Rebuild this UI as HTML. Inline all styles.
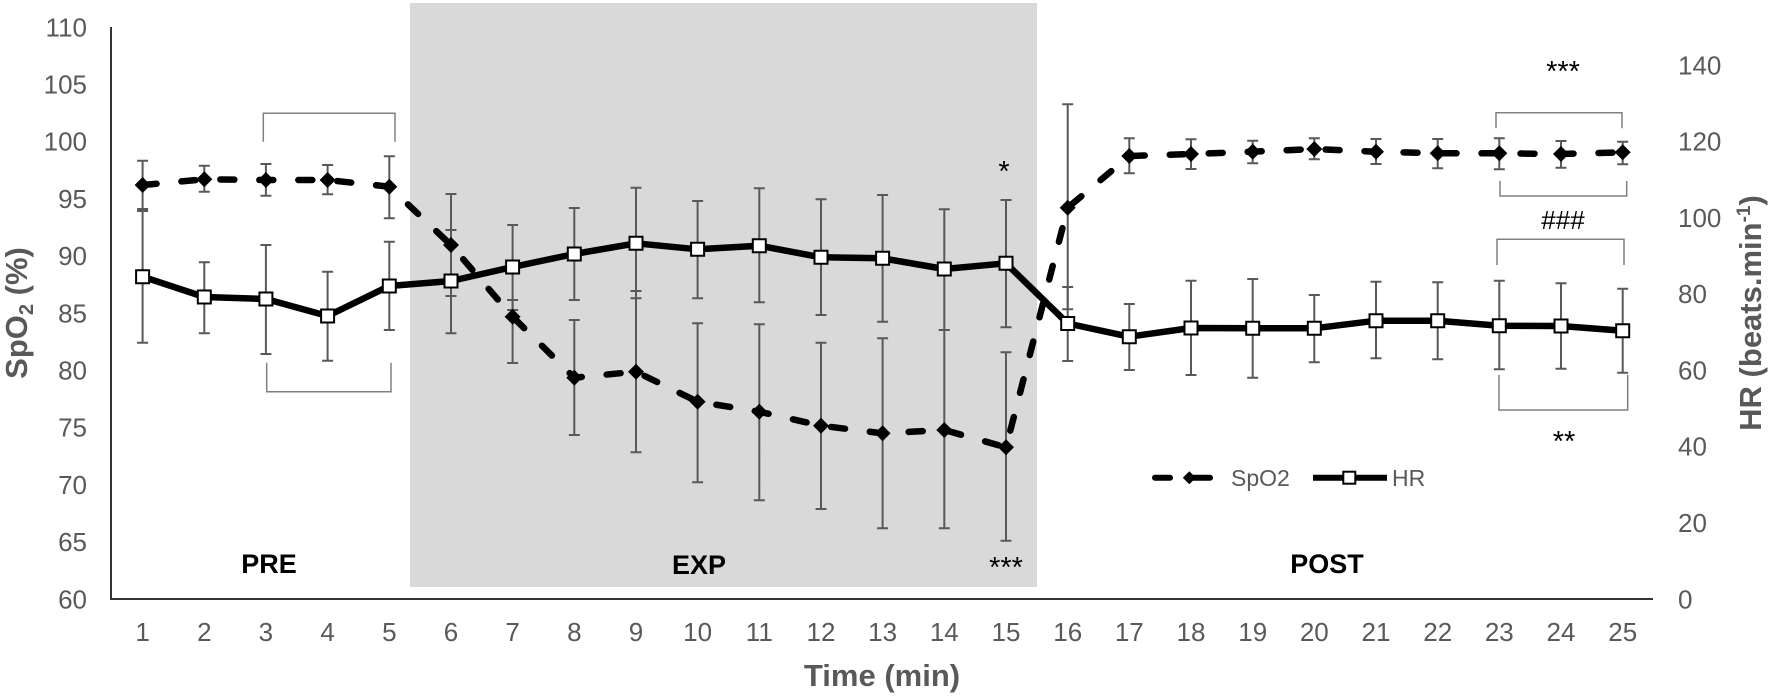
<!DOCTYPE html>
<html>
<head>
<meta charset="utf-8">
<style>
html,body{margin:0;padding:0;background:#fff;}
svg{display:block;}
text{font-family:"Liberation Sans",Arial,sans-serif;}
</style>
</head>
<body>
<svg width="1772" height="696" viewBox="0 0 1772 696" xmlns="http://www.w3.org/2000/svg">
<rect x="0" y="0" width="1772" height="696" fill="#fff"/>
<!-- shaded EXP region -->
<rect x="410" y="3" width="627" height="584" fill="#d9d9d9"/>

<!-- axes -->
<path d="M111 27V600M110 599H1653" stroke="#333" stroke-width="2" fill="none"/>

<!-- left tick labels -->
<g fill="#595959" font-size="26" text-anchor="end">
<text x="87" y="36.3">110</text>
<text x="87" y="93.5">105</text>
<text x="87" y="150.7">100</text>
<text x="87" y="207.9">95</text>
<text x="87" y="265.1">90</text>
<text x="87" y="322.3">85</text>
<text x="87" y="379.5">80</text>
<text x="87" y="436.7">75</text>
<text x="87" y="493.9">70</text>
<text x="87" y="551.1">65</text>
<text x="87" y="608.3">60</text>
</g>
<!-- right tick labels -->
<g fill="#595959" font-size="26" text-anchor="start">
<text x="1678" y="74.3">140</text>
<text x="1678" y="150.6">120</text>
<text x="1678" y="226.9">100</text>
<text x="1678" y="303.2">80</text>
<text x="1678" y="379.5">60</text>
<text x="1678" y="455.7">40</text>
<text x="1678" y="532">20</text>
<text x="1678" y="608.3">0</text>
</g>
<!-- x tick labels -->
<g fill="#595959" font-size="26" text-anchor="middle">
<text x="142.6" y="641">1</text>
<text x="204.3" y="641">2</text>
<text x="265.9" y="641">3</text>
<text x="327.6" y="641">4</text>
<text x="389.3" y="641">5</text>
<text x="451" y="641">6</text>
<text x="512.6" y="641">7</text>
<text x="574.3" y="641">8</text>
<text x="636" y="641">9</text>
<text x="697.6" y="641">10</text>
<text x="759.3" y="641">11</text>
<text x="821" y="641">12</text>
<text x="882.6" y="641">13</text>
<text x="944.3" y="641">14</text>
<text x="1006" y="641">15</text>
<text x="1067.7" y="641">16</text>
<text x="1129.3" y="641">17</text>
<text x="1191" y="641">18</text>
<text x="1252.7" y="641">19</text>
<text x="1314.3" y="641">20</text>
<text x="1376" y="641">21</text>
<text x="1437.7" y="641">22</text>
<text x="1499.3" y="641">23</text>
<text x="1561" y="641">24</text>
<text x="1622.7" y="641">25</text>
</g>

<!-- axis titles -->
<text x="882" y="686" font-size="31" font-weight="bold" fill="#595959" text-anchor="middle">Time (min)</text>
<text transform="translate(27,313) rotate(-90)" font-size="31" font-weight="bold" fill="#595959" text-anchor="middle">SpO<tspan font-size="20" dy="6">2</tspan><tspan dy="-6"> (%)</tspan></text>
<text transform="translate(1761,313) rotate(-90)" font-size="31" font-weight="bold" fill="#595959" text-anchor="middle">HR (beats.min<tspan font-size="19" dy="-11">-1</tspan><tspan dy="11">)</tspan></text>

<!-- brackets -->
<g stroke="#808080" stroke-width="1.5" fill="none">
<path d="M263.3 141.7V113.3H395V141.7"/>
<path d="M266.7 362.7V391.7H391V362.7"/>
<path d="M1496 128.3V112.7H1622V128.3"/>
<path d="M1500 181V196H1626.7V181"/>
<path d="M1497 265V239.3H1624V265"/>
<path d="M1499 375V410H1627.7V375"/>
</g>

<!-- error bars -->
<g stroke="#595959" stroke-width="2" fill="none">
<path d="M142.6 160.7V209M137.1 160.7h11M137.1 209h11M204.3 165.7V191.7M198.8 165.7h11M198.8 191.7h11M265.9 164V195.7M260.4 164h11M260.4 195.7h11M327.6 165V194.3M322.1 165h11M322.1 194.3h11M389.3 156.3V218.3M383.8 156.3h11M383.8 218.3h11M451 194V296M445.5 194h11M445.5 296h11M512.6 300V363M507.1 300h11M507.1 363h11M574.3 320V435M568.8 320h11M568.8 435h11M636 291V452.3M630.5 291h11M630.5 452.3h11M697.6 323.3V482.3M692.1 323.3h11M692.1 482.3h11M759.3 324.3V500.3M753.8 324.3h11M753.8 500.3h11M821 342.7V509M815.5 342.7h11M815.5 509h11M882.6 338.3V528.3M877.1 338.3h11M877.1 528.3h11M944.3 330V528.3M938.8 330h11M938.8 528.3h11M1006 352.3V540.7M1000.5 352.3h11M1000.5 540.7h11M1067.7 104.3V309.3M1062.2 104.3h11M1062.2 309.3h11M1129.3 138.3V173.3M1123.8 138.3h11M1123.8 173.3h11M1191 139.3V169M1185.5 139.3h11M1185.5 169h11M1252.7 140.7V163.3M1247.2 140.7h11M1247.2 163.3h11M1314.3 138.3V159.3M1308.8 138.3h11M1308.8 159.3h11M1376 139V164M1370.5 139h11M1370.5 164h11M1437.7 139V168.3M1432.2 139h11M1432.2 168.3h11M1499.3 138.3V169.3M1493.8 138.3h11M1493.8 169.3h11M1561 141V167.7M1555.5 141h11M1555.5 167.7h11M1622.7 141.7V164.3M1617.2 141.7h11M1617.2 164.3h11"/>
<path d="M142.6 211V342.7M137.1 211h11M137.1 342.7h11M204.3 262.3V333.3M198.8 262.3h11M198.8 333.3h11M265.9 245V354M260.4 245h11M260.4 354h11M327.6 271.7V360.7M322.1 271.7h11M322.1 360.7h11M389.3 241.7V330M383.8 241.7h11M383.8 330h11M451 230V333.3M445.5 230h11M445.5 333.3h11M512.6 225V310M507.1 225h11M507.1 310h11M574.3 208V300M568.8 208h11M568.8 300h11M636 187.7V298.3M630.5 187.7h11M630.5 298.3h11M697.6 201V298.3M692.1 201h11M692.1 298.3h11M759.3 188.3V302.3M753.8 188.3h11M753.8 302.3h11M821 199.3V315M815.5 199.3h11M815.5 315h11M882.6 195V321.7M877.1 195h11M877.1 321.7h11M944.3 209.3V330M938.8 209.3h11M938.8 330h11M1006 200V327.3M1000.5 200h11M1000.5 327.3h11M1067.7 287V361M1062.2 287h11M1062.2 361h11M1129.3 304V370M1123.8 304h11M1123.8 370h11M1191 280.7V375M1185.5 280.7h11M1185.5 375h11M1252.7 279V377.7M1247.2 279h11M1247.2 377.7h11M1314.3 295V362.3M1308.8 295h11M1308.8 362.3h11M1376 281.7V358.3M1370.5 281.7h11M1370.5 358.3h11M1437.7 282.3V359.3M1432.2 282.3h11M1432.2 359.3h11M1499.3 280.7V369.3M1493.8 280.7h11M1493.8 369.3h11M1561 283.3V368.7M1555.5 283.3h11M1555.5 368.7h11M1622.7 288.7V372.7M1617.2 288.7h11M1617.2 372.7h11"/>
</g>

<!-- SpO2 dashed line -->
<polyline fill="none" stroke="#000" stroke-width="6.5" stroke-linecap="round" stroke-linejoin="round" stroke-dasharray="14 25"
points="142.6,185 204.3,179.3 265.9,180 327.6,180 389.3,186.7 451,245 512.6,316.7 574.3,377.7 636,371.7 697.6,401.7 759.3,411.7 821,425.7 882.6,433.3 944.3,430 1006,447.3 1067.7,207.7 1129.3,156 1191,154 1252.7,151.7 1314.3,149 1376,151.7 1437.7,153.3 1499.3,153.3 1561,154 1622.7,152.3"/>
<!-- SpO2 diamonds -->
<path fill="#000" d="M142.6 177l8 8-8 8-8-8zM204.3 171.3l8 8-8 8-8-8zM265.9 172l8 8-8 8-8-8zM327.6 172l8 8-8 8-8-8zM389.3 178.7l8 8-8 8-8-8zM451 237l8 8-8 8-8-8zM512.6 308.7l8 8-8 8-8-8zM574.3 369.7l8 8-8 8-8-8zM636 363.7l8 8-8 8-8-8zM697.6 393.7l8 8-8 8-8-8zM759.3 403.7l8 8-8 8-8-8zM821 417.7l8 8-8 8-8-8zM882.6 425.3l8 8-8 8-8-8zM944.3 422l8 8-8 8-8-8zM1006 439.3l8 8-8 8-8-8zM1067.7 199.7l8 8-8 8-8-8zM1129.3 148l8 8-8 8-8-8zM1191 146l8 8-8 8-8-8zM1252.7 143.7l8 8-8 8-8-8zM1314.3 141l8 8-8 8-8-8zM1376 143.7l8 8-8 8-8-8zM1437.7 145.3l8 8-8 8-8-8zM1499.3 145.3l8 8-8 8-8-8zM1561 146l8 8-8 8-8-8zM1622.7 144.3l8 8-8 8-8-8z"/>

<!-- HR solid line -->
<polyline fill="none" stroke="#000" stroke-width="6.5" stroke-linejoin="round"
points="142.6,276.7 204.3,297 265.9,299 327.6,316 389.3,286 451,281 512.6,267 574.3,254 636,243.3 697.6,249.3 759.3,245.7 821,257.3 882.6,258.3 944.3,269 1006,263.3 1067.7,323.5 1129.3,336.7 1191,328 1252.7,328.3 1314.3,328.3 1376,320.7 1437.7,320.7 1499.3,325.7 1561,326 1622.7,330.7"/>
<!-- HR squares -->
<path fill="#fff" stroke="#000" stroke-width="2" d="M136.1 270.2h13v13h-13zM197.8 290.5h13v13h-13zM259.4 292.5h13v13h-13zM321.1 309.5h13v13h-13zM382.8 279.5h13v13h-13zM444.5 274.5h13v13h-13zM506.1 260.5h13v13h-13zM567.8 247.5h13v13h-13zM629.5 236.8h13v13h-13zM691.1 242.8h13v13h-13zM752.8 239.2h13v13h-13zM814.5 250.8h13v13h-13zM876.1 251.8h13v13h-13zM937.8 262.5h13v13h-13zM999.5 256.8h13v13h-13zM1061.2 317h13v13h-13zM1122.8 330.2h13v13h-13zM1184.5 321.5h13v13h-13zM1246.2 321.8h13v13h-13zM1307.8 321.8h13v13h-13zM1369.5 314.2h13v13h-13zM1431.2 314.2h13v13h-13zM1492.8 319.2h13v13h-13zM1554.5 319.5h13v13h-13zM1616.2 324.2h13v13h-13z"/>

<!-- legend -->
<g>
<path d="M1155 477.7H1170M1192 477.7H1210" stroke="#000" stroke-width="6" stroke-linecap="round" fill="none"/>
<path d="M1189.3 471.2l6.5 6.5-6.5 6.5-6.5-6.5z" fill="#000"/>
<text x="1231" y="486" font-size="23" fill="#595959">SpO2</text>
<path d="M1313 477.7H1387" stroke="#000" stroke-width="6" fill="none"/>
<rect x="1343.3" y="471.7" width="12" height="12" fill="#fff" stroke="#000" stroke-width="2"/>
<text x="1392" y="486" font-size="23" fill="#595959">HR</text>
</g>

<!-- annotations -->
<g font-size="27" font-weight="bold" fill="#000" text-anchor="middle">
<text x="269" y="573">PRE</text>
<text x="699" y="574">EXP</text>
<text x="1327" y="573">POST</text>
</g>
<g font-size="29" fill="#000" text-anchor="middle">
<text x="1563" y="81">***</text>
<text x="1004" y="181">*</text>
<text x="1006" y="577">***</text>
<text x="1564" y="451">**</text>
</g>
<text x="1563" y="229" font-size="26" fill="#000" text-anchor="middle">###</text>
</svg>
</body>
</html>
